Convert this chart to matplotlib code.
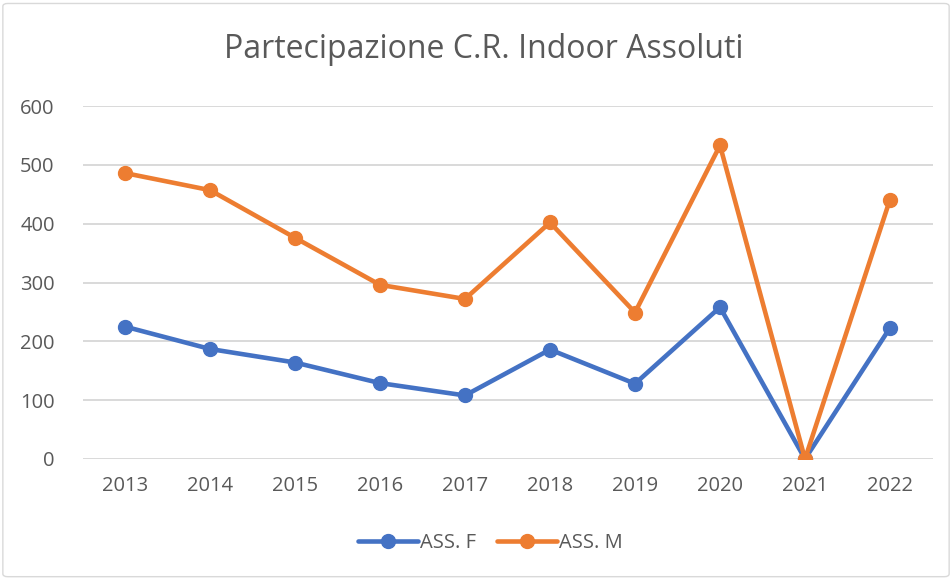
import matplotlib.pyplot as plt
from matplotlib.patches import FancyBboxPatch

years = ["2013", "2014", "2015", "2016", "2017", "2018", "2019", "2020", "2021", "2022"]
ass_f = [225, 187, 164, 129, 108, 186, 128, 258, 0, 223]
ass_m = [486, 457, 376, 296, 272, 402, 249, 533, 0, 441]
y_ticks = [0, 100, 200, 300, 400, 500, 600]

plt.rcParams['font.family'] = ['Open Sans', 'DejaVu Sans']

fig = plt.figure(figsize=(9.52, 5.79), dpi=100)
ax = fig.add_axes([82.5 / 952, 1 - 459 / 579, 850 / 952, 353 / 579])

# light chart border
fig.patches.append(FancyBboxPatch((0.003, 0.004), 0.994, 0.99,
                                  boxstyle="round,pad=0,rounding_size=0.005",
                                  transform=fig.transFigure, fill=False,
                                  edgecolor="#d9d9d9", linewidth=1))

x = list(range(len(years)))
ax.plot(x, ass_f, color="#4472c4", linewidth=3.3, marker="o", markersize=10,
        label="ASS. F", solid_capstyle="round")
ax.plot(x, ass_m, color="#ed7d31", linewidth=3.3, marker="o", markersize=10,
        label="ASS. M", solid_capstyle="round")

ax.set_xlim(-0.5, len(years) - 0.5)
ax.set_ylim(0, 600)
ax.set_xticks(x)
ax.set_xticklabels(years)
ax.set_yticks(y_ticks)
ax.tick_params(axis="both", length=0, labelsize=14.5, labelcolor="#595959")
ax.tick_params(axis="x", pad=12)
ax.tick_params(axis="y", pad=20)
ax.grid(axis="y", color="#d9d9d9", linewidth=1.4)
ax.set_axisbelow(True)
for s in ax.spines.values():
    s.set_visible(False)

fig.text(0.508, 1 - 50 / 579, "Partecipazione C.R. Indoor Assoluti", ha="center", va="center",
         fontsize=23, color="#595959")

fig.legend(loc="center", bbox_to_anchor=(0.515, 1 - 543 / 579), ncol=2, frameon=False,
           fontsize=14.5, labelcolor="#595959", handlelength=3.0, columnspacing=1.0,
           handletextpad=0.1)

fig.savefig("out.png", dpi=100)
